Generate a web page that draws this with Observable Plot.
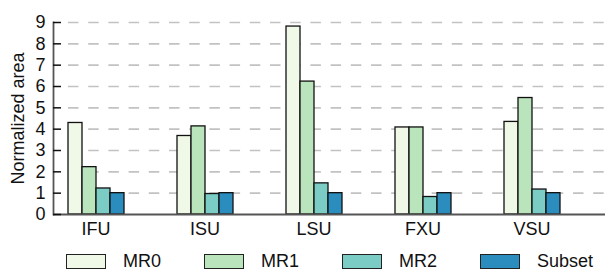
<!DOCTYPE html>
<html><head><meta charset="utf-8">
<script src="https://cdn.jsdelivr.net/npm/d3@7"></script>
<script src="https://cdn.jsdelivr.net/npm/@observablehq/plot@0.6"></script>
<style>
body{margin:0;background:#fff;font-family:"Liberation Sans",Arial,sans-serif;}
#chart{position:relative;width:608px;height:240px;}
#chart svg{position:absolute;left:0;top:0;}
#legend{position:relative;height:32px;width:608px;}
.item{position:absolute;top:14px;height:15px;display:flex;align-items:center;font-size:18px;color:#111;}
.sw{width:40px;height:15px;border:1px solid #222;box-sizing:border-box;margin-right:17px}
</style></head><body><div id="chart"></div><div id="legend"></div>
<script>
const units = ["IFU","ISU","LSU","FXU","VSU"];
const seriesNames = ["MR0","MR1","MR2","Subset"];
const mr0 = [4.29,3.68,8.81,4.08,4.34];
const mr1 = [2.22,4.13,6.23,4.08,5.46];
const mr2 = [1.22,0.96,1.46,0.82,1.17];
const subset = [1,1,1,1,1];
const colors = ["#f0f9e8","#bae4bc","#7bccc4","#2b8cbe"];
const yTicks = [0,1,2,3,4,5,6,7,8,9];

const valuesBySeries = [mr0, mr1, mr2, subset];
const data = [];
units.forEach((u, i) => seriesNames.forEach((s, j) => data.push({unit: u, series: s, value: valuesBySeries[j][i]})));

const common = {
  width: 608,
  height: 240,
  marginLeft: 53,
  marginRight: 3,
  marginTop: 22,
  marginBottom: 26,
  style: {fontSize: "18px", fontFamily: "'Liberation Sans', Arial, sans-serif", color: "#111", background: "transparent"}
};

// background: grid, y tick labels and title
const back = Plot.plot({
  ...common,
  y: {domain: [0, 9], ticks: yTicks, label: null, axis: null},
  marks: [
    Plot.ruleY(yTicks.filter(d => d > 0), {stroke: "#c2c2c2", strokeWidth: 1.6, strokeDasharray: "10.5,9.7", insetLeft: 15}),
    Plot.axisY({ticks: yTicks, tickSize: 0, tickPadding: 8, label: "Normalized area", labelArrow: "none", labelAnchor: "center", labelOffset: 42, fontSize: 18})
  ]
});

// foreground: bars grouped by unit
const front = Plot.plot({
  ...common,
  fx: {domain: units, range: [67, 560.3], paddingInner: 0.48, paddingOuter: 0, label: null, axis: null},
  x: {domain: seriesNames, padding: 0, axis: null},
  y: {domain: [0, 9], label: null, axis: null},
  color: {domain: seriesNames, range: colors},
  marks: [
    Plot.barY(data, {fx: "unit", x: "series", y: "value", fill: "series", stroke: "#111", strokeWidth: 1.3}),
    Plot.axisFx({anchor: "bottom", tickSize: 0, tickPadding: 8, label: null, fontSize: 18})
  ]
});

// overlay: axis lines and ticks
const over = Plot.plot({
  ...common,
  y: {domain: [0, 9], label: null, axis: null},
  marks: [
    Plot.ruleY([0], {stroke: "#555", strokeWidth: 2}),
    Plot.frame({anchor: "left", stroke: "#555", strokeWidth: 1.8}),
    Plot.axisY({ticks: yTicks, tickSize: -8, text: null, label: null, stroke: "#111", strokeWidth: 1.5})
  ]
});

const chartEl = document.getElementById("chart");
chartEl.appendChild(back);
chartEl.appendChild(front);
chartEl.appendChild(over);

const legend = document.getElementById("legend");
const legendLeft = [66, 204, 342, 480];
seriesNames.forEach((s, i) => {
  const item = document.createElement("div");
  item.className = "item";
  item.style.left = legendLeft[i] + "px";
  const sw = document.createElement("div");
  sw.className = "sw";
  sw.style.background = colors[i];
  const t = document.createElement("span");
  t.textContent = s;
  item.appendChild(sw); item.appendChild(t);
  legend.appendChild(item);
});
</script></body></html>
